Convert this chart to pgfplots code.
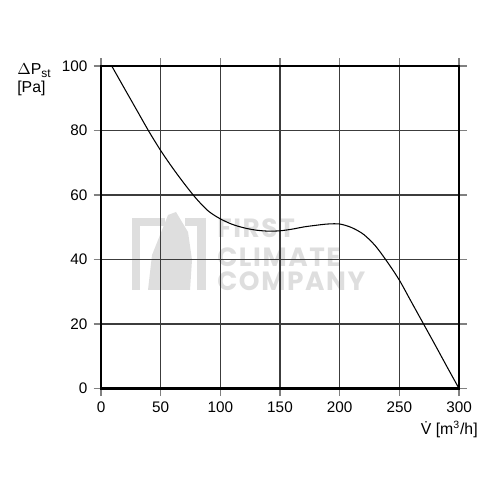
\documentclass[border=0pt]{standalone}
\usepackage{fontspec}
\setmainfont{Liberation Sans}
\newfontfamily\wm[LetterSpace=6]{Poppins}
\usepackage{pgfplots}
\pgfplotsset{compat=1.18}
\definecolor{wmgray}{RGB}{222,222,222}
\definecolor{gridgray}{RGB}{60,60,60}
\begin{document}
\begin{tikzpicture}
\path[use as bounding box] (-2.02,-2.23) rectangle (7.98,7.77);
% watermark
\begin{scope}[wmgray]
\fill (0.62,1.97) rectangle (0.78,3.41);
\fill (0.62,3.25) rectangle (1.28,3.41);
\fill (1.68,3.25) rectangle (2.10,3.41);
\fill (1.92,1.97) rectangle (2.10,3.41);
\fill (0.94,1.97) -- (1.02,2.67) -- (1.18,3.07) -- (1.34,3.47) -- (1.50,3.53) -- (1.74,3.13) -- (1.82,2.57) -- (1.78,1.97) -- cycle;
\tikzset{wmtext/.style={anchor=base west, inner sep=0pt, text depth=0pt, font=\wm\bfseries\fontsize{15}{16}\selectfont}}
\node[wmtext] at (2.32,3.01) {FIRST};
\node[wmtext] at (2.32,2.43) {CLIMATE};
\node[wmtext] at (2.32,1.95) {COMPANY};
\end{scope}
\begin{axis}[
  at={(0,0)}, anchor=origin,
  scale only axis,
  width=7.16cm, height=6.45cm,
  xmin=0, xmax=300, ymin=0, ymax=100,
  xtick={0,50,...,300}, ytick={0,20,...,100},
  grid=major,
  grid style={gridgray, line width=0.6pt},
  axis line style={black, line width=1.2pt},
  tick align=outside,
  major tick length=0.15cm,
  tick style={gray, line width=0.6pt},
  ticklabel style={font=\fontsize{8.7}{10}\selectfont},
  /pgf/number format/assume math mode=true,
  clip=false,
]
\addplot[black, line width=0.6pt, smooth] coordinates {
(9,100) (20,92.8) (30,86.3) (40,79.8) (50,73.8) (60,68.4) (70,63.4) (80,58.8)
(90,55) (100,52.6) (110,50.9) (120,49.8) (130,49.1) (140,48.8) (150,48.9)
(160,49.4) (170,50.1) (180,50.6) (190,51.0) (200,51.0) (210,49.9) (220,47.8)
(230,44.2) (240,39.2) (250,33.6) (260,26.9) (270,20.2) (280,13.5) (290,6.7) (300,0)
};
\end{axis}
\node[anchor=base west, inner sep=0pt, font=\fontsize{9}{10}\selectfont] at (-1.68,6.27) {$\Delta$P\raisebox{-1.6pt}{\fontsize{6.8}{7}\selectfont st}};
\node[anchor=base west, inner sep=0pt, font=\fontsize{9}{10}\selectfont] at (-1.68,5.91) {[Pa]};
\node[anchor=base east, inner sep=0pt, font=\fontsize{9}{10}\selectfont] at (7.54,-0.93) {V\char"0307\ [m\textsuperscript{3}/h]};
\end{tikzpicture}
\end{document}
